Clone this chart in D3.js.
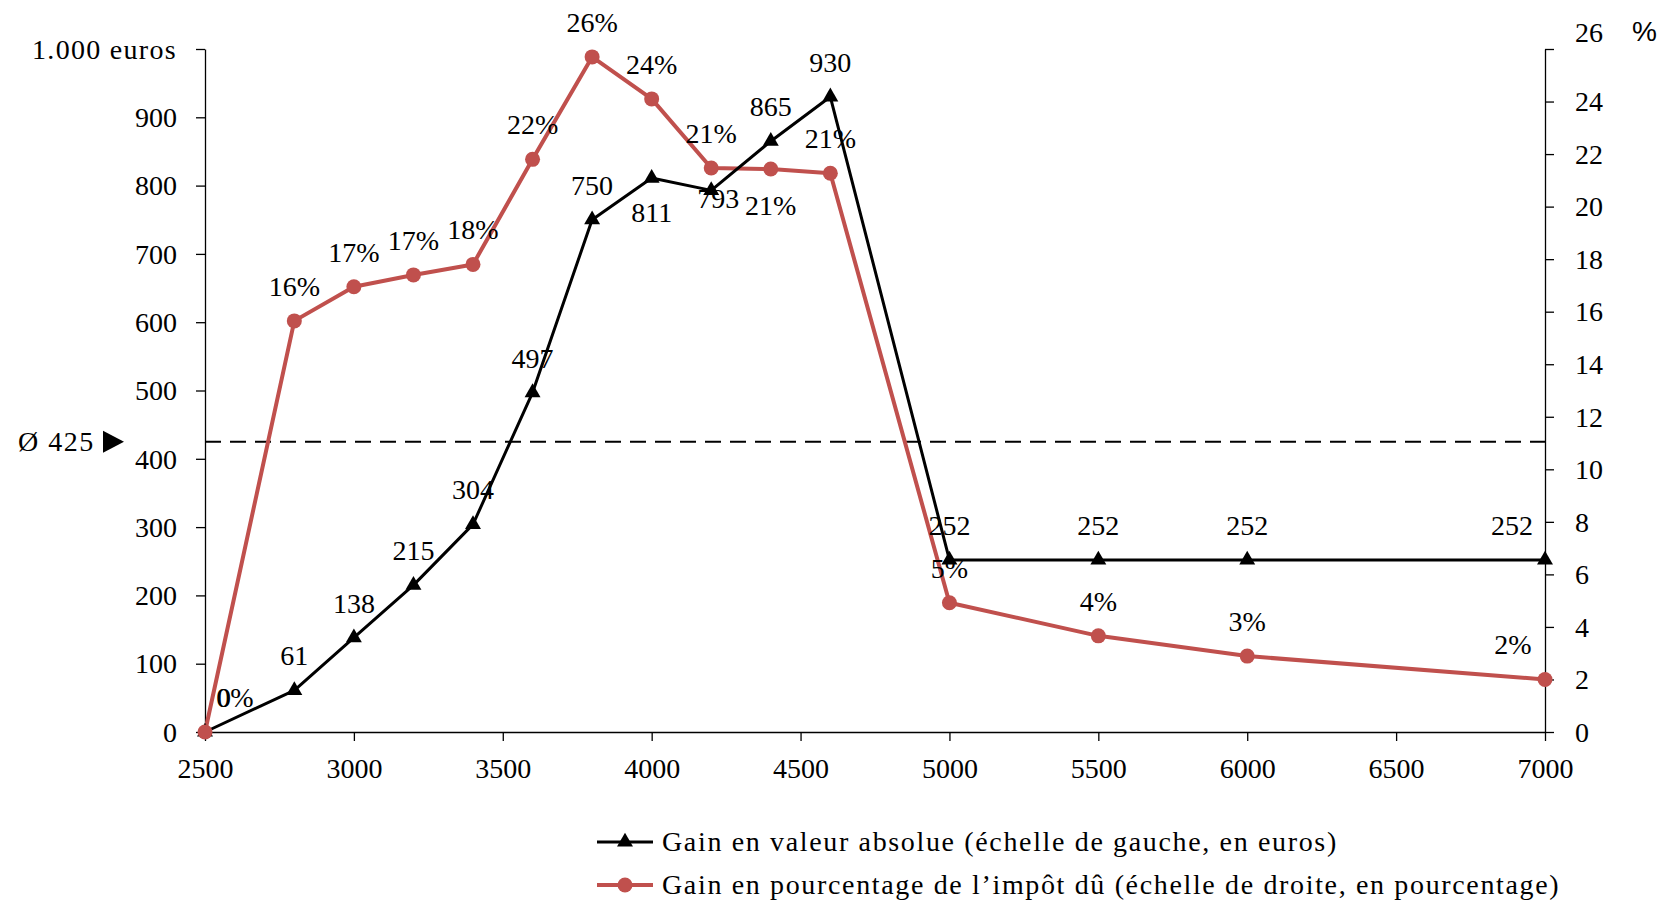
<!DOCTYPE html>
<html>
<head>
<meta charset="utf-8">
<script src="https://cdn.jsdelivr.net/npm/d3@7"></script>
<style>
  body { margin: 0; background: #fff; }
  svg { display: block; font-family: "Liberation Serif", serif; }
</style>
</head>
<body>
<svg id="chart" width="1673" height="922"></svg>
<script>
// revenu mensuel (euros)
const incomes   = [2500, 2800, 3000, 3200, 3400, 3600, 3800, 4000, 4200, 4400, 4600, 5000, 5500, 6000, 7000];
// gain en euros (échelle de gauche)
const gainEuros = [0, 61, 138, 215, 304, 497, 750, 811, 793, 865, 930, 252, 252, 252, 252];
// gain en % de l'impôt dû (échelle de droite)
const gainPct   = [0, 15.65, 16.95, 17.4, 17.8, 21.8, 25.7, 24.1, 21.47, 21.43, 21.27, 4.92, 3.66, 2.89, 2.0];
const pctLabels = ["0%", "16%", "17%", "17%", "18%", "22%", "26%", "24%", "21%", "21%", "21%", "5%", "4%", "3%", "2%"];
const average   = 425;

const xTicks  = [2500, 3000, 3500, 4000, 4500, 5000, 5500, 6000, 6500, 7000];
const yLTicks = [0, 100, 200, 300, 400, 500, 600, 700, 800, 900, 1000];
const yRTicks = [0, 2, 4, 6, 8, 10, 12, 14, 16, 18, 20, 22, 24, 26];

const legendNames = [
  "Gain en valeur absolue (échelle de gauche, en euros)",
  "Gain en pourcentage de l’impôt dû (échelle de droite, en pourcentage)"
];

const RED = "#C0504D";
const FS = 28;

const svg = d3.select("#chart");

let x  = d3.scaleLinear().domain([2500, 7000]).range([205, 1545]);
let yL = d3.scaleLinear().domain([0, 1000]).range([732, 49]);
let yR = d3.scaleLinear().domain([0, 26]).range([732, 49]);

// axes
let gx = svg.append("g").attr("transform", "translate(0,732)")
  .call(d3.axisBottom(x).tickValues(xTicks).tickFormat(d3.format("d")).tickSize(9).tickSizeOuter(0).tickPadding(17));
let gl = svg.append("g").attr("transform", "translate(205,0)")
  .call(d3.axisLeft(yL).tickValues(yLTicks)
    .tickFormat(d => d==1000 ? "1.000 euros" : d).tickSize(9).tickSizeOuter(0).tickPadding(19));
let gr = svg.append("g").attr("transform", "translate(1545,0)")
  .call(d3.axisRight(yR).tickValues(yRTicks).tickFormat(d3.format("d")).tickSize(9).tickSizeOuter(0).tickPadding(21));

[gx, gl, gr].forEach(g => {
  g.selectAll("path, line").attr("stroke", "#000").attr("stroke-width", 1.3);
  g.selectAll("text").attr("font-size", FS).attr("fill", "#000").attr("font-family", "Liberation Serif, serif");
});
gl.selectAll("text").attr("dy", "0.33em");
gr.selectAll("text").attr("dy", "0.33em");
gl.selectAll(".tick").filter(d => d==1000).select("text").attr("letter-spacing", 1.3);

// top label on the right is lifted, with the unit next to it
gr.selectAll(".tick").filter(d => d==26).select("text").attr("y", -17);
gr.append("text")
  .attr("x", 87).attr("y", yR(26) - 17).attr("dy", "0.33em")
  .attr("font-size", FS).attr("fill", "#000")
  .text("%");

// average line
svg.append("line")
  .attr("x1", x(2500)).attr("x2", x(7000))
  .attr("y1", yL(average)).attr("y2", yL(average))
  .attr("stroke", "#000").attr("stroke-width", 2).attr("stroke-dasharray", "16,9");
svg.append("text")
  .attr("x", 18).attr("y", yL(average)).attr("dy", "0.33em")
  .attr("font-size", FS).attr("letter-spacing", 1.5).text("Ø " + average);
svg.append("path")
  .attr("d", d3.line()([[103, yL(average)-11], [124, yL(average)], [103, yL(average)+11]]) + "Z")
  .attr("fill", "#000");

let ptsE = incomes.map((v, i) => ({x: v, y: gainEuros[i], lab: String(gainEuros[i]), i: i}));
let ptsP = incomes.map((v, i) => ({x: v, y: gainPct[i], lab: pctLabels[i], i: i}));

let lineE = d3.line().x(d => x(d.x)).y(d => yL(d.y));
let lineP = d3.line().x(d => x(d.x)).y(d => yR(d.y));

svg.append("path").datum(ptsP).attr("d", lineP)
  .attr("fill", "none").attr("stroke", RED).attr("stroke-width", 4).attr("stroke-linejoin", "round");
svg.append("path").datum(ptsE).attr("d", lineE)
  .attr("fill", "none").attr("stroke", "#000").attr("stroke-width", 3).attr("stroke-linejoin", "round");

let tri = d3.symbol().type(d3.symbolTriangle).size(110);
svg.append("g").selectAll("path").data(ptsE).join("path")
  .attr("d", tri)
  .attr("transform", d => "translate(" + x(d.x) + "," + yL(d.y) + ")")
  .attr("fill", "#000");
svg.append("g").selectAll("circle").data(ptsP).join("circle")
  .attr("cx", d => x(d.x)).attr("cy", d => yR(d.y)).attr("r", 7.5)
  .attr("fill", RED);

// data labels: above by default, a few moved
const placeE = {0: [19, -25], 7: [0, 44], 8: [7, 18], 14: [-33, -25]};
const placeP = {0: [30, -25], 9: [0, 46], 14: [-32, -25]};

svg.append("g").selectAll("text").data(ptsE).join("text")
  .attr("x", d => x(d.x) + (placeE[d.i] ? placeE[d.i][0] : 0))
  .attr("y", d => yL(d.y) + (placeE[d.i] ? placeE[d.i][1] : -25))
  .attr("text-anchor", "middle").attr("font-size", FS)
  .text(d => d.lab);
svg.append("g").selectAll("text").data(ptsP).join("text")
  .attr("x", d => x(d.x) + (placeP[d.i] ? placeP[d.i][0] : 0))
  .attr("y", d => yR(d.y) + (placeP[d.i] ? placeP[d.i][1] : -25))
  .attr("text-anchor", "middle").attr("font-size", FS)
  .text(d => d.lab);

// legend
let leg = svg.append("g");
leg.append("line").attr("x1", 597).attr("x2", 653).attr("y1", 842).attr("y2", 842)
  .attr("stroke", "#000").attr("stroke-width", 3);
leg.append("path").attr("d", tri).attr("transform", "translate(625,842)").attr("fill", "#000");
leg.append("line").attr("x1", 597).attr("x2", 653).attr("y1", 885).attr("y2", 885)
  .attr("stroke", RED).attr("stroke-width", 4);
leg.append("circle").attr("cx", 625).attr("cy", 885).attr("r", 7.5).attr("fill", RED);
leg.selectAll("text").data(legendNames).join("text")
  .attr("x", 662).attr("y", (d, i) => 842 + i*43).attr("dy", "0.33em")
  .attr("font-size", FS).attr("letter-spacing", 1.65)
  .text(d => d);
</script>
</body>
</html>
